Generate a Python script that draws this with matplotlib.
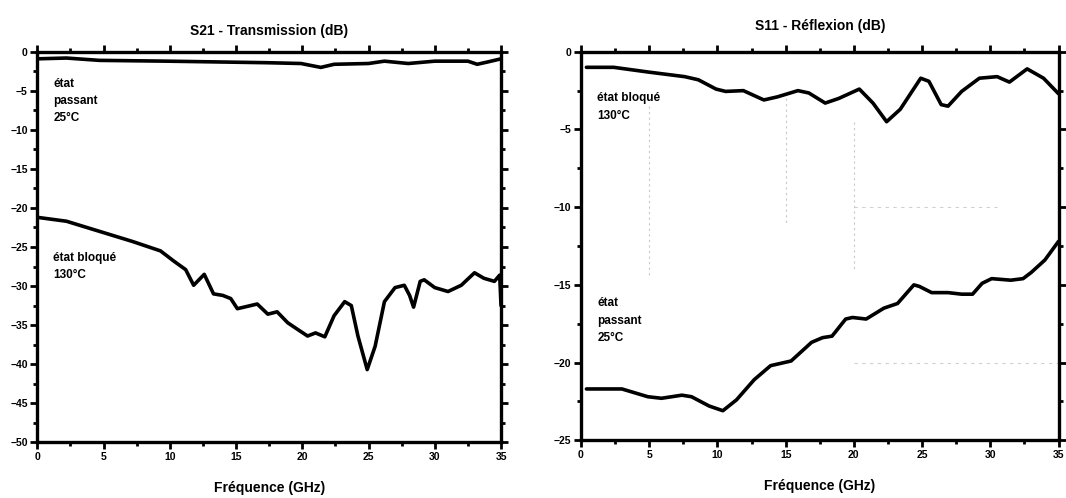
import matplotlib
matplotlib.use("Agg")
import matplotlib.pyplot as plt
from matplotlib.ticker import MultipleLocator

plt.rcParams['font.family'] = ['Liberation Sans', 'DejaVu Sans']
plt.rcParams['font.weight'] = 'bold'

# S21 - transmission, left panel
s21_on_f = [0, 2.2, 4.7, 9.8, 17.4, 19.9, 21.4, 22.4, 25, 26.2, 28, 30, 32.5, 33.2, 34, 35]
s21_on_db = [-0.9, -0.8, -1.1, -1.2, -1.4, -1.5, -2.0, -1.6, -1.5, -1.2, -1.5, -1.2, -1.2, -1.6, -1.3, -0.9]

s21_off_f = [0, 2.2, 4.7, 7.2, 9.3, 10.3, 11.2, 11.8, 12.6, 13.3, 14.0, 14.6, 15.1, 16.1, 16.6,
             17.4, 18.1, 18.9, 19.6, 20.4, 21.0, 21.7, 22.4, 23.2, 23.7, 24.2, 24.9, 25.5, 26.2,
             27.0, 27.7, 28.1, 28.4, 28.9, 29.2, 30.0, 31.0, 32.0, 33.0, 33.7, 34.5, 34.9, 35.0]
s21_off_db = [-21.2, -21.7, -23.0, -24.3, -25.5, -26.8, -27.9, -29.9, -28.5, -31.0, -31.2, -31.6,
              -32.9, -32.5, -32.3, -33.6, -33.3, -34.7, -35.5, -36.4, -36.0, -36.5, -33.8, -32.0,
              -32.5, -36.4, -40.7, -37.7, -32.0, -30.2, -29.9, -31.2, -32.7, -29.4, -29.2, -30.2,
              -30.7, -29.9, -28.3, -29.0, -29.4, -28.6, -32.5]

# S11 - reflexion, right panel
s11_off_f = [0.4, 2.4, 4.9, 7.6, 8.6, 9.9, 10.6, 11.9, 13.4, 14.4, 15.9, 16.7, 17.9, 18.9, 20.4,
             21.4, 22.4, 23.4, 24.9, 25.5, 26.4, 26.9, 27.9, 29.2, 30.5, 31.4, 32.7, 33.9, 35.0]
s11_off_db = [-1.0, -1.0, -1.3, -1.6, -1.8, -2.4, -2.55, -2.5, -3.1, -2.9, -2.5, -2.65, -3.3, -3.0,
              -2.4, -3.3, -4.5, -3.7, -1.7, -1.9, -3.4, -3.5, -2.55, -1.7, -1.6, -1.95, -1.1,
              -1.7, -2.7]

s11_on_f = [0.4, 3.0, 4.9, 5.9, 7.4, 8.1, 9.4, 10.4, 11.4, 12.7, 13.9, 15.4, 16.9, 17.7, 18.4,
            19.4, 19.9, 20.9, 22.2, 23.2, 24.4, 24.8, 25.7, 26.9, 27.9, 28.7, 29.4, 30.1, 31.5,
            32.4, 33.0, 34.0, 35.0]
s11_on_db = [-21.7, -21.7, -22.2, -22.3, -22.1, -22.2, -22.8, -23.1, -22.4, -21.1, -20.2, -19.9,
             -18.7, -18.4, -18.3, -17.2, -17.1, -17.2, -16.5, -16.2, -15.0, -15.1, -15.5, -15.5,
             -15.6, -15.6, -14.9, -14.6, -14.7, -14.6, -14.2, -13.4, -12.2]

fig = plt.figure(figsize=(10.66, 4.98), dpi=100)
ax1 = fig.add_axes([0.035, 0.112, 0.435, 0.784])
ax2 = fig.add_axes([0.545, 0.116, 0.448, 0.780])


def style(ax, ymin, ymaj, ymin_step):
    ax.set_xlim(0, 35)
    ax.set_ylim(ymin, 0)
    ax.xaxis.set_major_locator(MultipleLocator(5))
    ax.xaxis.set_minor_locator(MultipleLocator(2.5))
    ax.yaxis.set_major_locator(MultipleLocator(ymaj))
    ax.yaxis.set_minor_locator(MultipleLocator(ymin_step))
    for s in ax.spines.values():
        s.set_linewidth(2.4)
    ax.tick_params(which='both', direction='out', top=True, right=True, width=2)
    ax.tick_params(which='major', length=5, labelsize=7.5, pad=2)
    ax.tick_params(which='minor', length=3)
    for lab in ax.get_xticklabels() + ax.get_yticklabels():
        lab.set_fontweight('bold')
    ax.set_xlabel('Fréquence (GHz)', fontsize=10, fontweight='bold', labelpad=14)


line_kw = dict(color='black', lw=2.6, solid_joinstyle='round', solid_capstyle='round')
txt_kw = dict(fontsize=8.5, fontweight='bold', va='top', linespacing=1.6)

ax1.plot(s21_on_f, s21_on_db, **line_kw)
ax1.plot(s21_off_f, s21_off_db, **line_kw)
style(ax1, -50, 5, 2.5)
ax1.set_title('S21 - Transmission (dB)', fontsize=10, fontweight='bold', pad=12)
ax1.text(1.2, -3.3, 'état\npassant\n25°C', **txt_kw)
ax1.text(1.2, -25.6, 'état bloqué\n130°C', **txt_kw)

# faint scan marks on the right panel
for xv, y0, y1 in [(5, -3.5, -14.5), (15, -3, -11), (20, -4.5, -14)]:
    ax2.plot([xv, xv], [y0, y1], color='#c8c8c8', lw=0.8, ls=(0, (2, 3)))
ax2.plot([20, 30.5], [-10, -10], color='#d0d0d0', lw=0.8, ls=(0, (3, 4)))
ax2.plot([20, 35], [-20, -20], color='#d0d0d0', lw=0.8, ls=(0, (3, 4)))

ax2.plot(s11_off_f, s11_off_db, **line_kw)
ax2.plot(s11_on_f, s11_on_db, **line_kw)
style(ax2, -25, 5, 2.5)
ax2.set_title('S11 - Réflexion (dB)', fontsize=10, fontweight='bold', pad=16)
ax2.text(1.2, -2.6, 'état bloqué\n130°C', **txt_kw)
ax2.text(1.2, -15.8, 'état\npassant\n25°C', **txt_kw)

fig.savefig('out.png', dpi=100)
